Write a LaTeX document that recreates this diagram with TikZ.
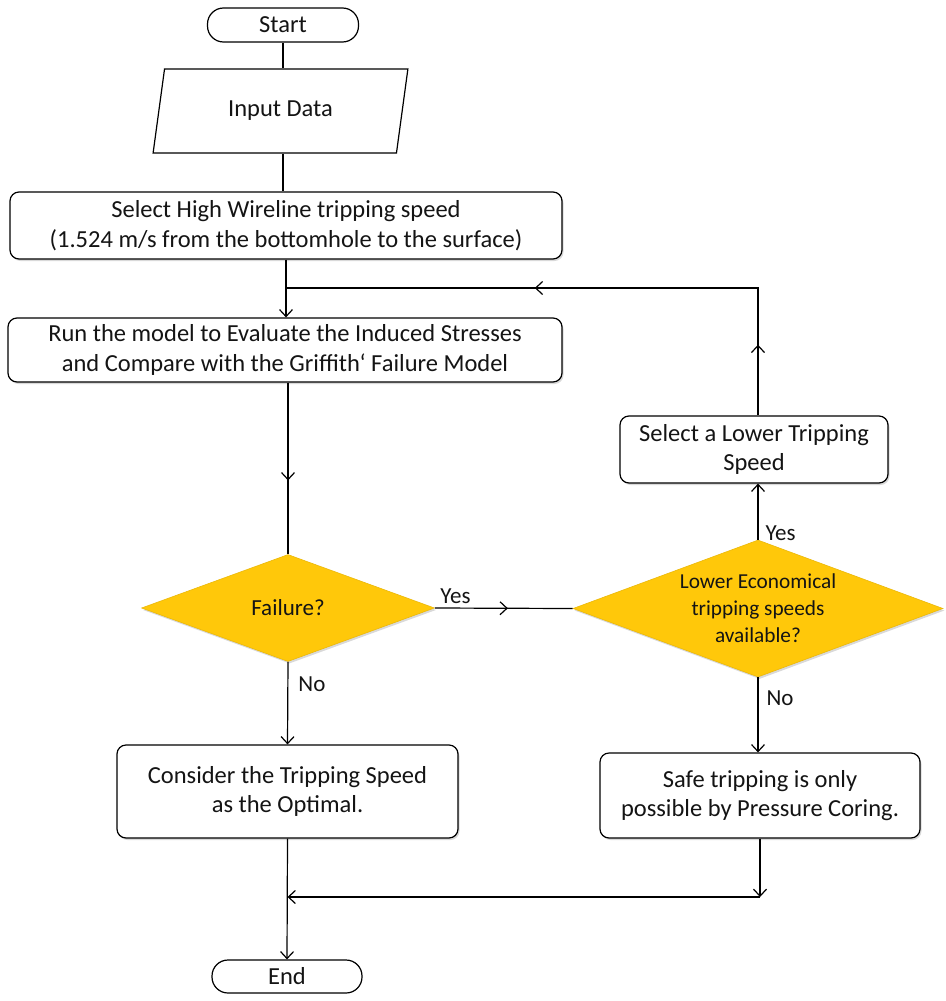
\documentclass[tikz,border=0pt]{standalone}
\usepackage{fontspec}
\setmainfont{Carlito}
\usetikzlibrary{shapes.geometric,arrows.meta,decorations.markings,shadows,calc}
\definecolor{gold}{RGB}{255,200,10}
\definecolor{txt}{RGB}{20,20,20}
\begin{document}
\begin{tikzpicture}[x=1pt,y=-1pt,
  font=\fontsize{24.5}{29.5}\selectfont, text=txt,
  every path/.style={line width=1.2pt},
  shadowed/.style={drop shadow={opacity=0.3,shadow xshift=1.5pt,shadow yshift=-2pt}},
  box/.style={draw=black, rounded corners=9pt, fill=white, align=center, inner sep=0pt, shadowed},
  term/.style={draw=black, rounded corners=16pt, fill=white, inner sep=0pt},
  dec/.style={diamond, fill=gold, draw=gold!92!black, line width=0.6pt, inner sep=0pt, align=center, shadowed},
  arr/.style={-{Straight Barb[length=7pt,width=13pt]}},
  midarr/.style={postaction={decorate},decoration={markings,
     mark=at position #1 with {\arrow{Straight Barb[length=7pt,width=13pt]}}}},
  lbl/.style={font=\fontsize{23}{26}\selectfont, inner sep=0pt}
]
\useasboundingbox (0,0) rectangle (945,1001);

% nodes
\node[term, minimum width=151pt, minimum height=34pt] (start) at (283,25) {Start};
\node[trapezium, trapezium left angle=75.3, trapezium right angle=104.7,
      trapezium stretches=true, draw=black, fill=white, inner sep=0pt,
      minimum width=255pt, minimum height=84pt] (input) at (280.5,111) {Input Data};
\node[box, minimum width=552pt, minimum height=67pt] (sel) at (286,225.5)
   {Select High Wireline tripping speed\\(1.524 m/s from the bottomhole to the surface)};
\coordinate (j) at (286,288);
\node[box, minimum width=554pt, minimum height=64pt] (run) at (285,350)
   {Run the model to Evaluate the Induced Stresses\\and Compare with the Griffith‘ Failure Model};
\node[dec, minimum width=293pt, minimum height=107pt, aspect=2.74,
      font=\fontsize{23}{27}\selectfont] (fail) at (288,608) {Failure?};
\node[dec, minimum width=370pt, minimum height=137pt, aspect=2.7,
      font=\fontsize{21.3}{27}\selectfont] (rdec) at (758,608.5)
   {Lower Economical\\tripping speeds\\available?};
\node[box, minimum width=268pt, minimum height=67pt] (lower) at (754,449.5)
   {Select a Lower Tripping\\Speed};
\node[box, minimum width=341pt, minimum height=93pt] (cons) at (287.5,791.5)
   {Consider the Tripping Speed\\as the Optimal.};
\node[box, minimum width=320pt, minimum height=85pt] (safe) at (760,795.5)
   {Safe tripping is only\\possible by Pressure Coring.};
\node[term, minimum width=150pt, minimum height=33pt] (endn) at (287,976.5) {End};
\coordinate (row) at (0,897);

% connectors
\draw (start.south) -- (start.south |- input.north);
\draw (input.south -| start.south) -- (sel.north -| start.south);
\draw[arr] (sel.south) -- (sel.south |- run.north);
\draw[midarr=0.57] (fail.north |- run.south) -- (fail.north);
\draw[midarr=0.53] (fail.east) -- (rdec.west)
   node[lbl, pos=0.15, above=4pt] {Yes};
\draw[arr] (fail.south) -- (cons.north)
   node[lbl, pos=0.27, right=10pt] {No};
\draw[arr] (rdec.north) -- (rdec.north |- lower.south)
   node[lbl, pos=0.12, right=7pt] {Yes};
\draw[postaction={decorate},decoration={markings,
      mark=at position 0.118 with {\arrow{Straight Barb[length=7pt,width=13pt]}},
      mark=at position 0.585 with {\arrow{Straight Barb[length=7pt,width=13pt]}}}]
   (rdec.north |- lower.north) -- (rdec.north |- j) -- (j);
\draw[arr] (rdec.south) -- (rdec.south |- safe.north)
   node[lbl, pos=0.28, right=8pt] {No};
\draw[arr] (safe.south) -- (safe.south |- row);
\draw[arr] (safe.south |- row) -- (cons.south |- row);
\draw[arr] (cons.south) -- (endn.north);
\end{tikzpicture}
\end{document}
